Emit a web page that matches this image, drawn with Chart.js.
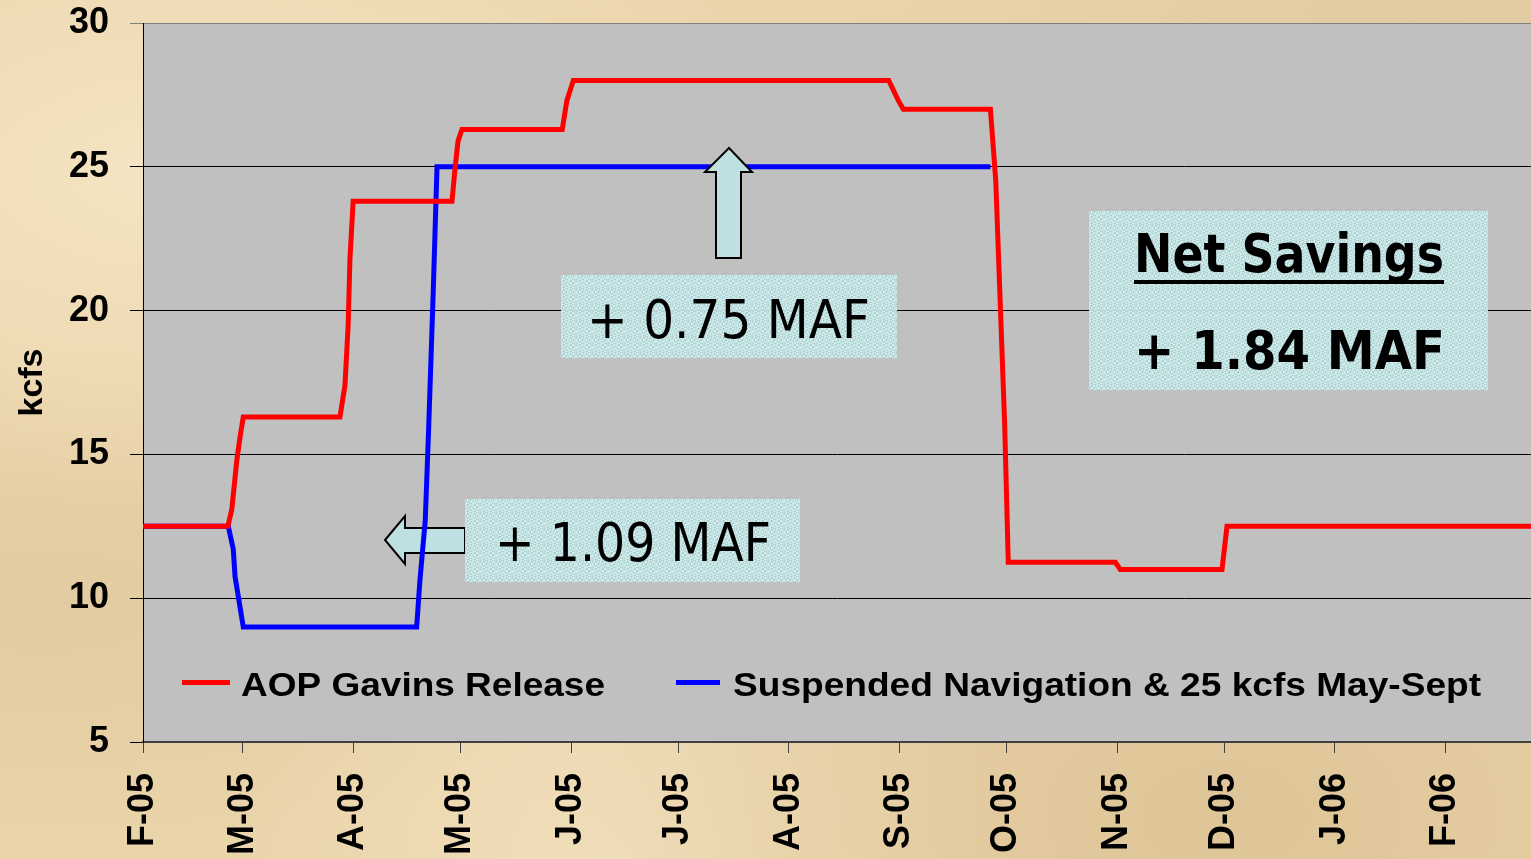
<!DOCTYPE html>
<html>
<head>
<meta charset="utf-8">
<script src="https://cdn.jsdelivr.net/npm/chart.js@4"></script>
<style>
  html, body { margin: 0; padding: 0; overflow: hidden; }
  body {
    width: 1531px; height: 859px;
    background-color: #ead4aa;
    background-image:
      radial-gradient(ellipse at 12% 20%, rgba(250,236,205,0.7), rgba(250,236,205,0) 35%),
      radial-gradient(ellipse at 80% 95%, rgba(205,175,125,0.4), rgba(205,175,125,0) 40%),
      radial-gradient(ellipse at 40% 100%, rgba(245,230,198,0.6), rgba(245,230,198,0) 30%),
      radial-gradient(ellipse at 95% 5%, rgba(210,185,140,0.35), rgba(210,185,140,0) 30%),
      radial-gradient(ellipse at 3% 70%, rgba(215,190,145,0.4), rgba(215,190,145,0) 30%);
  }
  canvas { display: block; }
</style>
</head>
<body>
<canvas id="chart" width="1531" height="859"></canvas>
<script>
'use strict';

// ===== データ =====
// x = 2005/2/1 からの日数
const MONTH_DAYS   = [0, 28, 59, 89, 120, 150, 181, 212, 242, 273, 303, 334, 365];
const MONTH_LABELS = ['F-05', 'M-05', 'A-05', 'M-05', 'J-05', 'J-05', 'A-05',
                      'S-05', 'O-05', 'N-05', 'D-05', 'J-06', 'F-06'];
const X_MAX = 389;
const Y_TICKS = [5, 10, 15, 20, 25, 30];

const SERIES_LABELS = ['AOP Gavins Release', 'Suspended Navigation & 25 kcfs May-Sept'];
const SERIES_COLORS = ['#ff0000', '#0000ff'];

const AOP_DAYS = [0, 23.8, 24.9, 26.3, 27.2, 28.1, 55.2, 56.6, 57.5, 58.0, 58.9,
                  86.6, 87.5, 88.3, 89.4, 117.5, 118.8, 120.6, 209, 211.7, 213.1,
                  237.5, 239.0, 241.5, 242.5, 272.5, 273.9, 302.4, 303.8, 389];
const AOP_KCFS = [12.5, 12.5, 13.1, 14.8, 15.6, 16.3, 16.3, 17.4, 19.5, 21.8, 23.8,
                  23.8, 25.0, 25.9, 26.3, 26.3, 27.3, 28.0, 28.0, 27.3, 27.0,
                  27.0, 24.5, 16.0, 11.25, 11.25, 11.0, 11.0, 12.5, 12.5];

const NAV_DAYS = [0, 23.9, 25.3, 25.8, 28.1, 76.7, 77.6, 79.1, 80.0, 81.3, 82.4, 237.5];
const NAV_KCFS = [12.5, 12.5, 11.7, 10.75, 9.0, 9.0, 10.6, 12.7, 15.7, 20.5, 25.0, 25.0];

// ===== 注記 =====
const NOTE_BOXES = [
  { x: 561,  y: 275, w: 336, h: 83 },
  { x: 465,  y: 499, w: 335, h: 83 },
  { x: 1089, y: 211, w: 399, h: 179 },
];
const NOTE_TEXTS = [
  { text: '+ 0.75 MAF',  x: 587,  y: 338, w: 283, bold: false },
  { text: '+ 1.09 MAF',  x: 495,  y: 561, w: 276, bold: false },
  { text: 'Net Savings', x: 1134, y: 272, w: 310, bold: true, underline: true },
  { text: '+ 1.84 MAF',  x: 1134, y: 369, w: 311, bold: true },
];

function toXY(xs, ys) {
  return xs.map((x, i) => ({ x: x, y: ys[i] }));
}

// テクスチャ風パターン（決定的）
function makePattern(ctx) {
  const c = document.createElement('canvas');
  c.width = 16; c.height = 16;
  const p = c.getContext('2d');
  for (let i = 0; i < 16; i++) {
    for (let j = 0; j < 16; j++) {
      const h = ((i * 73 + j * 151 + i * j * 17) % 7);
      p.fillStyle = h < 2 ? '#a9c9c9' : (h < 5 ? '#c4e8e8' : '#d6f4f4');
      p.fillRect(i, j, 1, 1);
    }
  }
  return ctx.createPattern(c, 'repeat');
}

function fitText(ctx, text, x, y, w, font) {
  ctx.save();
  ctx.font = font;
  const m = ctx.measureText(text).width;
  ctx.translate(x, y);
  ctx.scale(w / m, 1);
  ctx.textAlign = 'left';
  ctx.textBaseline = 'alphabetic';
  ctx.fillText(text, 0, 0);
  ctx.restore();
}

function drawArrow(ctx, pts) {
  ctx.save();
  ctx.beginPath();
  ctx.moveTo(pts[0][0], pts[0][1]);
  for (let i = 1; i < pts.length; i++) ctx.lineTo(pts[i][0], pts[i][1]);
  ctx.closePath();
  ctx.fillStyle = '#bfe0e2';
  ctx.fill();
  ctx.lineWidth = 2;
  ctx.strokeStyle = '#000';
  ctx.lineJoin = 'miter';
  ctx.stroke();
  ctx.restore();
}

// ===== プラグイン =====
const plotBg = {
  id: 'plotBg',
  beforeDraw(chart) {
    const { ctx, chartArea: a } = chart;
    ctx.save();
    ctx.fillStyle = '#c0c0c0';
    ctx.fillRect(a.left, a.top, a.right - a.left, a.bottom - a.top);
    ctx.restore();
  },
  beforeDatasetsDraw(chart) {
    // 左向き矢印（線の下）
    drawArrow(chart.ctx, [[385, 540], [405, 516], [405, 528], [465, 528],
                          [465, 553], [405, 553], [405, 564]]);
  },
  afterDatasetsDraw(chart) {
    const ctx = chart.ctx;
    // 上向き矢印
    drawArrow(ctx, [[729, 148], [752, 172], [741, 172], [741, 258],
                    [716, 258], [716, 172], [705, 172]]);

    const pat = makePattern(ctx);
    ctx.save();
    ctx.globalAlpha = 0.93;
    ctx.fillStyle = pat;
    NOTE_BOXES.forEach(b => ctx.fillRect(b.x, b.y, b.w, b.h));
    ctx.restore();

    ctx.save();
    ctx.fillStyle = '#000';
    NOTE_TEXTS.forEach(t => {
      const font = (t.bold ? 'bold ' : '') + '54px "DejaVu Sans"';
      fitText(ctx, t.text, t.x, t.y, t.w, font);
      if (t.underline) ctx.fillRect(t.x, t.y + 8, t.w, 4);
    });
    ctx.restore();

    // 凡例（プロット内）
    const items = [
      { line: [182, 230], tx: 241, tw: 364 },
      { line: [676, 720], tx: 733, tw: 748 },
    ];
    ctx.save();
    items.forEach((it, i) => {
      ctx.fillStyle = SERIES_COLORS[i];
      ctx.fillRect(it.line[0], 680, it.line[1] - it.line[0], 5);
      ctx.fillStyle = '#000';
      fitText(ctx, SERIES_LABELS[i], it.tx, 696, it.tw, 'bold 34px "Liberation Sans", Arial');
    });
    ctx.restore();
  },
};

// ===== チャート =====
const chart = new Chart(document.getElementById('chart'), {
  type: 'line',
  data: {
    datasets: [
      {
        label: SERIES_LABELS[0],
        data: toXY(AOP_DAYS, AOP_KCFS),
        borderColor: SERIES_COLORS[0],
        borderWidth: 5,
        pointRadius: 0,
        tension: 0,
      },
      {
        label: SERIES_LABELS[1],
        data: toXY(NAV_DAYS, NAV_KCFS),
        borderColor: SERIES_COLORS[1],
        borderWidth: 5,
        pointRadius: 0,
        tension: 0,
      },
    ],
  },
  options: {
    responsive: false,
    animation: false,
    events: [],
    layout: { padding: { top: 23, right: 0, left: 0, bottom: 0 } },
    plugins: {
      legend: { display: false },
      tooltip: { enabled: false },
    },
    scales: {
      x: {
        type: 'linear',
        min: 0,
        max: X_MAX,
        afterBuildTicks: scale => { scale.ticks = MONTH_DAYS.map(v => ({ value: v })); },
        afterFit: scale => {
          scale.height = 117;
          scale.paddingLeft = 0;
          scale.paddingRight = 0;
          scale.paddingTop = 0;
          scale.paddingBottom = 0;
        },
        ticks: {
          autoSkip: false,
          minRotation: 90,
          maxRotation: 90,
          padding: 20,
          color: '#000',
          font: { family: '"Liberation Sans", Arial', size: 36, weight: 'bold' },
          callback: (v) => MONTH_LABELS[MONTH_DAYS.indexOf(v)],
        },
        grid: {
          drawOnChartArea: false,
          drawTicks: true,
          tickLength: 11,
          color: '#404040',
        },
        border: { color: '#404040', width: 2 },
      },
      y: {
        min: 5,
        max: 30,
        afterBuildTicks: scale => { scale.ticks = Y_TICKS.map(v => ({ value: v })); },
        afterFit: scale => {
          scale.width = 143;
          scale.paddingTop = 0;
          scale.paddingBottom = 0;
          scale.paddingLeft = 0;
          scale.paddingRight = 0;
        },
        ticks: {
          padding: 21,
          color: '#000',
          font: { family: '"Liberation Sans", Arial', size: 36, weight: 'bold' },
        },
        grid: {
          color: ctx => (ctx.tick && ctx.tick.value === 30 ? '#808080' : '#000'),
          lineWidth: 1,
          tickLength: 13,
        },
        border: { color: '#000', width: 1 },
        title: {
          display: true,
          text: 'kcfs',
          color: '#000',
          padding: { top: 12, bottom: 0 },
          font: { family: '"Liberation Sans", Arial', size: 34, weight: 'bold' },
        },
      },
    },
  },
  plugins: [plotBg],
});
</script>
</body>
</html>
